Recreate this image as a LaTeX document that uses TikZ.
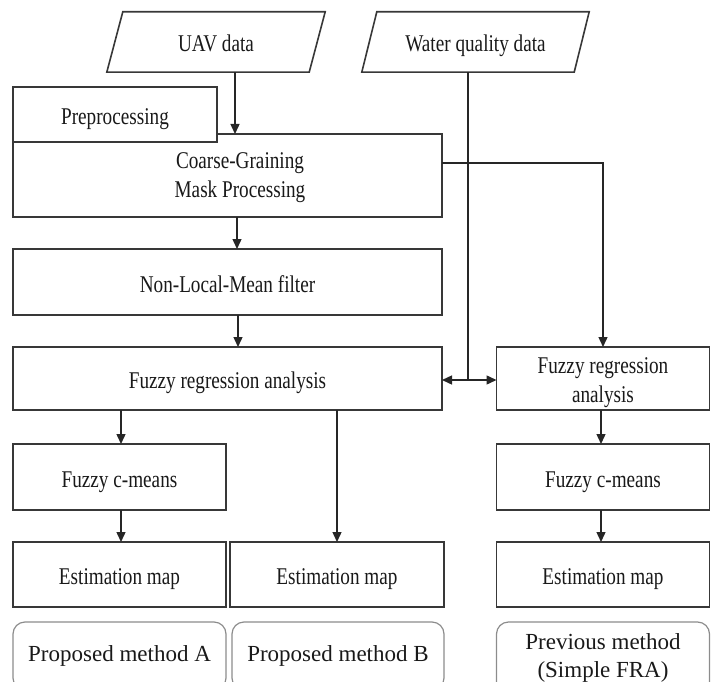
\documentclass[tikz,border=0pt]{standalone}
\usepackage{fontspec}
\setmainfont{Liberation Serif}
\newfontfamily\boxfont[FakeStretch=0.8]{Liberation Serif}
\usetikzlibrary{arrows.meta,calc}
\begin{document}
\begin{tikzpicture}[x=1pt,y=-1pt,
  ln/.style={line width=1.6pt, draw=black!78},
  bx/.style={ln, rectangle, inner sep=0pt, outer sep=0pt, fill=white,
    font=\boxfont\fontsize{24}{28}\selectfont, text=black!90, align=center,
    text height=24pt, text depth=4pt},
  tx/.style={inner sep=0pt, font=\boxfont\fontsize{24}{29}\selectfont, text=black!90, align=center},
  arr/.style={line width=1.4pt, draw=black!85, -{Triangle[length=10pt,width=9pt]}},
  darr/.style={line width=1.4pt, draw=black!85, {Triangle[length=10pt,width=9pt]}-{Triangle[length=10pt,width=9pt]}},
  rb/.style={draw=black!45, line width=1.2pt, rounded corners=12pt, inner sep=0pt,
    font=\fontsize{23}{28}\selectfont, text=black!90, align=center}
]
\useasboundingbox (0,0) rectangle (712,682);

% input parallelograms
\node[tx, minimum width=202pt, minimum height=60pt, text height=24pt, text depth=4pt] (uav) at (216,42) {UAV data};
\draw[ln] ([xshift=8pt]uav.north west) -- ([xshift=8pt]uav.north east)
  -- ([xshift=-8pt]uav.south east) -- ([xshift=-8pt]uav.south west) -- cycle;
\node[tx, minimum width=212pt, minimum height=60pt, text height=24pt, text depth=4pt] (water) at (475.5,42) {Water quality data};
\draw[ln] ([xshift=7.5pt]water.north west) -- ([xshift=7.5pt]water.north east)
  -- ([xshift=-7.5pt]water.south east) -- ([xshift=-7.5pt]water.south west) -- cycle;

% left column
\node[bx, minimum width=429pt, minimum height=83pt] (coarse) at (227.5,175.5) {};
\node[tx] (coarsetxt) at (240,178) {Coarse-Graining\\Mask Processing};
\node[bx, minimum width=204pt, minimum height=55pt] (pre) at (115,114.5) {Preprocessing};
\node[bx, minimum width=429pt, minimum height=66pt] (nlm) at (227.5,282) {Non-Local-Mean filter};
\node[bx, minimum width=429pt, minimum height=63pt] (fra) at (227.5,378.5) {Fuzzy regression analysis};
\node[bx, minimum width=213pt, minimum height=66pt] (fcm) at (119.5,477) {Fuzzy c-means};
\node[bx, minimum width=213pt, minimum height=65pt] (estA) at (119.5,574.5) {Estimation map};
\node[bx, minimum width=214pt, minimum height=65pt] (estB) at (337,574.5) {Estimation map};

% right column
\node[bx, minimum width=213pt, minimum height=63pt] (fra2) at (603,378.5) {};
\node[tx] (fra2txt) at (603,383) {Fuzzy regression\\analysis};
\node[bx, minimum width=213pt, minimum height=66pt] (fcm2) at (603,477) {Fuzzy c-means};
\node[bx, minimum width=213pt, minimum height=65pt] (est2) at (603,574.5) {Estimation map};

% method labels
\node[rb, minimum width=213pt, minimum height=68pt] (pa) at (119.5,656) {Proposed method A};
\node[rb, minimum width=212pt, minimum height=68pt] (pb) at (338,656) {Proposed method B};
\node[rb, minimum width=213pt, minimum height=72pt] (pc) at (603,658) {Previous method\\(Simple FRA)};

% helper coordinates
\coordinate (ax) at (235,0);
\coordinate (nx) at (237,0);
\coordinate (nx2) at (238,0);
\coordinate (lx) at (121,0);
\coordinate (rx) at (601,0);
\coordinate (wx) at (468,380);
\coordinate (cy) at (603,163);

% connectors
\draw[arr] (uav.south -| ax) -- (coarse.north -| ax);
\draw[arr] (coarse.south -| nx) -- (nlm.north -| nx);
\draw[arr] (nlm.south -| nx2) -- (fra.north -| nx2);
\draw[arr] (fra.south -| lx) -- (fcm.north -| lx);
\draw[arr] (fcm.south -| lx) -- (estA.north -| lx);
\draw[arr] (fra.south -| estB.north) -- (estB.north);
\draw[ln, line width=1.4pt, draw=black!85] (water.south -| wx) -- (wx);
\draw[darr] (fra.east |- wx) -- (fra2.west |- wx);
\draw[arr] (coarse.east |- cy) -- (fra2.north |- cy) -- (fra2.north);
\draw[arr] (fra2.south -| rx) -- (fcm2.north -| rx);
\draw[arr] (fcm2.south -| rx) -- (est2.north -| rx);
\end{tikzpicture}
\end{document}
